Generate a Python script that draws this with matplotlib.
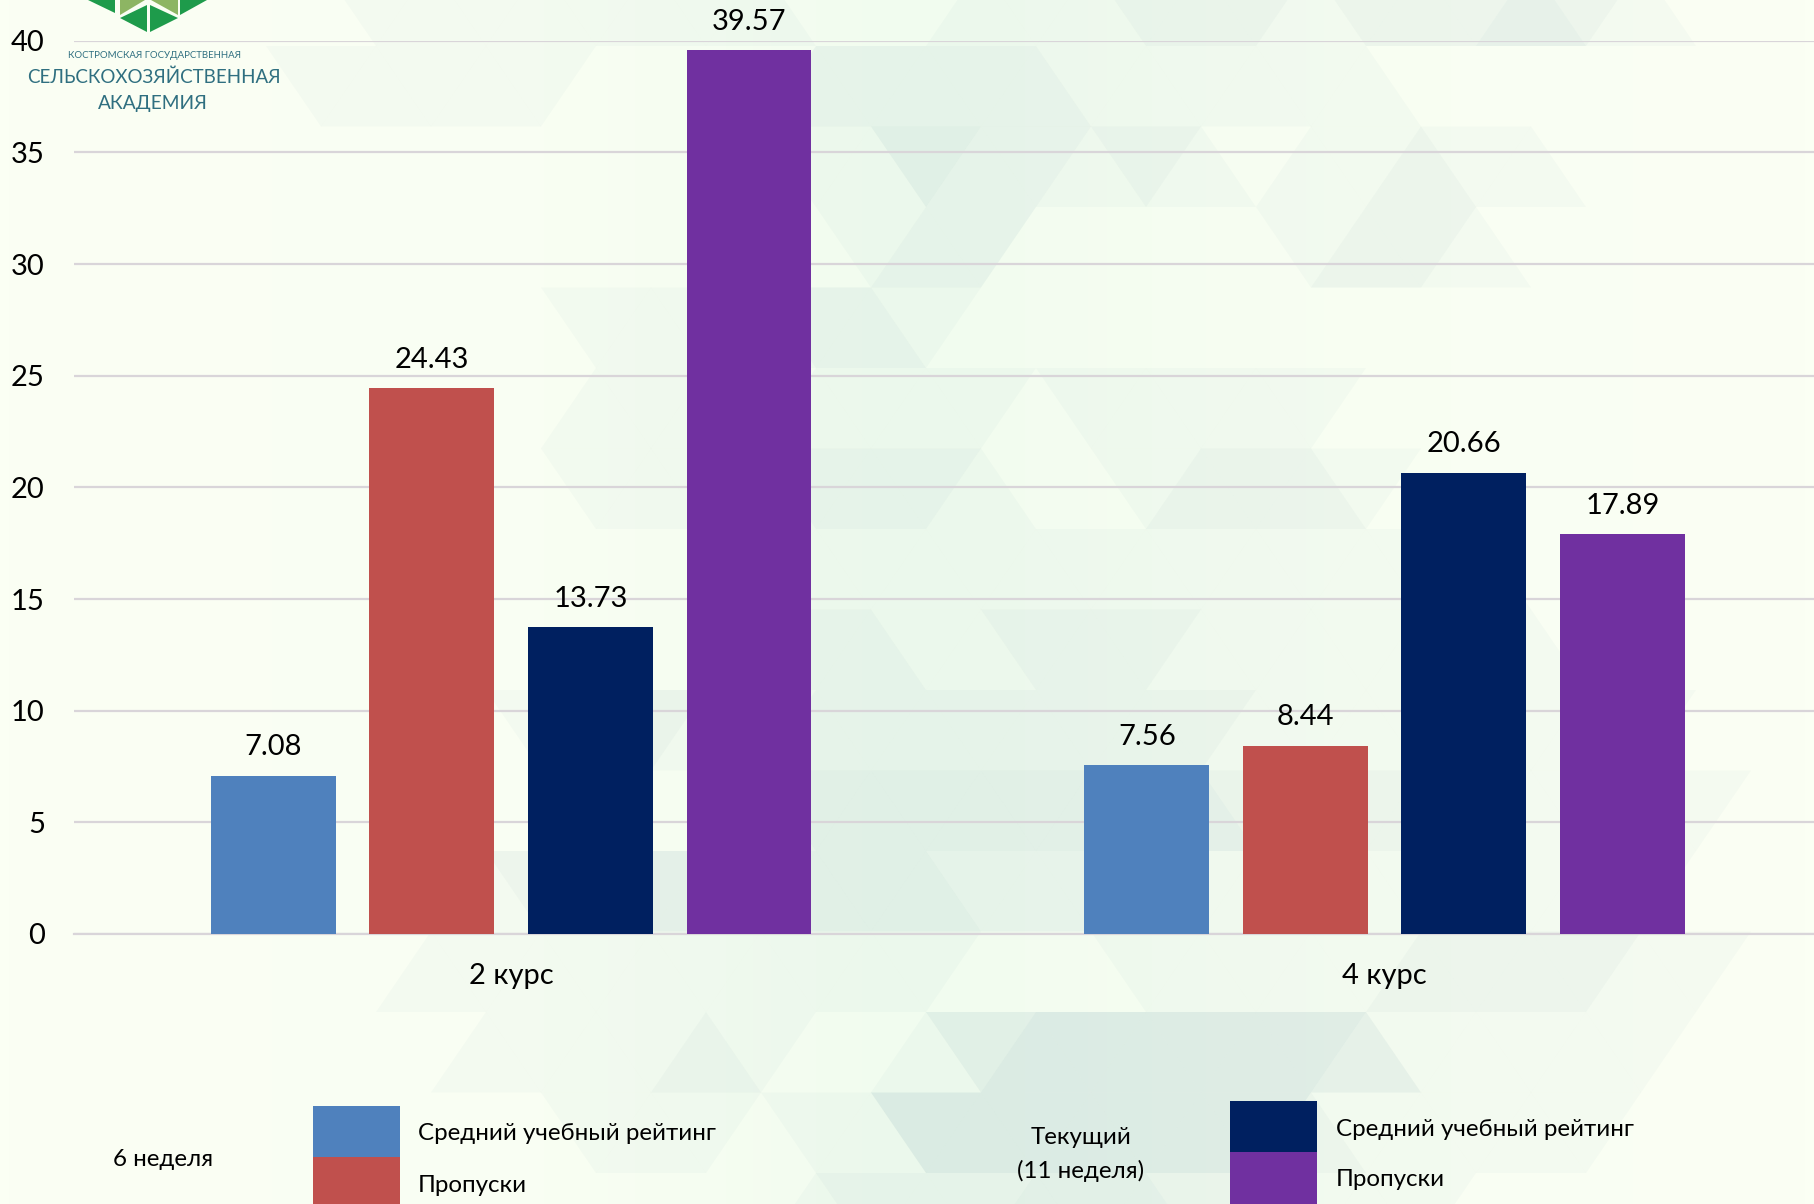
import matplotlib
matplotlib.use('Agg')
import matplotlib.pyplot as plt
from matplotlib.collections import PolyCollection
from matplotlib.patches import Polygon, Rectangle
import numpy as np

# --- data ---
courses = ['2 курс', '4 курс']
rating_w6 = [7.08, 7.56]
absent_w6 = [24.43, 8.44]
rating_w11 = [13.73, 20.66]
absent_w11 = [39.57, 17.89]
y_ticks = [0, 5, 10, 15, 20, 25, 30, 35, 40]

BLUE, RED, NAVY, PURPLE = '#4F81BD', '#C0504D', '#002060', '#7030A0'
TEAL = '#2F6F80'
W, H = 1814, 1204

# tint level of each background triangle, one string per row of the lattice
bg_rows = [
    '0000001111111100011122212223210000',
    '0000011111000022222111111000000000',
    '0000000000000011322121011211000000',
    '0000000000000001220000012210000000',
    '0000000000111122100000000000000000',
    '0000000000111011110111110000000000',
    '0000000000111122210012221000000000',
    '0000000000000111111111111110000000',
    '0000000000000222112221111111000000',
    '0000000001121122222222111111110000',
    '0000000000000233333333222211111000',
    '0000000012333333322221111111110000',
    '0000000111111111100011111222211000',
    '0000000011112100134444443111110000',
    '0000000000111011444444421111100000',
    '0000000000000012223332211100000000',
]

plt.rcParams['font.family'] = ['Lato', 'Open Sans', 'DejaVu Sans']

fig = plt.figure(figsize=(W / 100, H / 100), dpi=100)

# --- page layer: background, logo, legend ---
page = fig.add_axes([0, 0, 1, 1], zorder=0)
page.set_xlim(0, W)
page.set_ylim(H, 0)
page.axis('off')

base_l = np.array([251, 255, 244]) / 255
base_m = np.array([241, 252, 239]) / 255
xs = np.linspace(0, 1, 200)
t = np.interp(xs, [0, 0.3, 0.5, 0.75, 1], [0, 0.2, 1, 0.25, 0])
img = base_l[None, :] * (1 - t[:, None]) + base_m[None, :] * t[:, None]
page.imshow(img[None, :, :], extent=[0, W, H, 0], aspect='auto', zorder=0)

polys, tints = [], []
for i, row in enumerate(bg_rows):
    r = i - 1
    y0, y1 = 46 + 80.5 * r, 46 + 80.5 * (r + 1)
    for c, ch in enumerate(row):
        if ch == '0':
            continue
        left = 55 * c - 9
        if (r + c) % 2:
            polys.append([(left, y0), (left + 110, y0), (left + 55, y1)])
        else:
            polys.append([(left, y1), (left + 110, y1), (left + 55, y0)])
        tints.append((70 / 255, 130 / 255, 150 / 255, int(ch) * 0.033))
page.add_collection(PolyCollection(polys, facecolors=tints, edgecolors='none', zorder=1))

for pts, col in [
    ([(88, 0), (115, 13), (115, 0)], '#1E9B4B'),
    ([(180, 15), (180, 0), (207, 0)], '#1E9B4B'),
    ([(120, 18), (147, 5), (147, 32)], '#1E9B4B'),
    ([(150, 5), (178, 18), (150, 32)], '#1E9B4B'),
    ([(120, 0), (145, 0), (120, 15)], '#8DB563'),
    ([(151, 0), (178, 0), (178, 15)], '#8DB563'),
]:
    page.add_patch(Polygon(pts, closed=True, facecolor=col, edgecolor='none', zorder=2))

page.text(155, 56, 'КОСТРОМСКАЯ ГОСУДАРСТВЕННАЯ', fontsize=6.9, color=TEAL, ha='center', va='center')
page.text(154, 77, 'СЕЛЬСКОХОЗЯЙСТВЕННАЯ', fontsize=13.5, color=TEAL, ha='center', va='center')
page.text(153, 103, 'АКАДЕМИЯ', fontsize=13.8, color=TEAL, ha='center', va='center')

# legend built by hand, the original has two separate blocks
page.add_patch(Rectangle((313, 1106), 87, 51, color=BLUE, lw=0, zorder=2))
page.add_patch(Rectangle((313, 1157), 87, 47, color=RED, lw=0, zorder=2))
page.add_patch(Rectangle((1230, 1101), 87, 51, color=NAVY, lw=0, zorder=2))
page.add_patch(Rectangle((1230, 1152), 87, 52, color=PURPLE, lw=0, zorder=2))

LEG = 17.4
page.text(163, 1160, '6 неделя', fontsize=LEG, ha='center', va='center', color='black')
page.text(418, 1134, 'Средний учебный рейтинг', fontsize=LEG, va='center', color='black')
page.text(418, 1185, 'Пропуски', fontsize=LEG, va='center', color='black')
page.text(1081, 1138, 'Текущий', fontsize=LEG, ha='center', va='center', color='black')
page.text(1081, 1171, '(11 неделя)', fontsize=LEG, ha='center', va='center', color='black')
page.text(1336, 1129, 'Средний учебный рейтинг', fontsize=LEG, va='center', color='black')
page.text(1336, 1180, 'Пропуски', fontsize=LEG, va='center', color='black')

# --- chart ---
ax = fig.add_axes([74 / W, (H - 934) / H, (W - 74) / W, (934 - 40.7) / H], zorder=1)
ax.patch.set_alpha(0)
x = np.arange(len(courses))
width = 0.143
pitch = 0.1815
series = [(rating_w6, BLUE), (absent_w6, RED), (rating_w11, NAVY), (absent_w11, PURPLE)]
for k, (vals, col) in enumerate(series):
    bars = ax.bar(x + (k - 1.5) * pitch, vals, width, color=col, zorder=3)
    for b, v in zip(bars, vals):
        ax.annotate(f'{v:.2f}', (b.get_x() + b.get_width() / 2, v), xytext=(0, 20.5),
                    textcoords='offset points', ha='center', va='center',
                    fontsize=21, color='black', annotation_clip=False)

ax.set_xlim(-0.5005, 1.4915)
ax.set_ylim(0, 40)
ax.set_yticks(y_ticks)
ax.set_xticks(x)
ax.set_xticklabels(courses)
ax.grid(axis='y', color='#D9D5D9', linewidth=1.6, zorder=1)
for side in ['top', 'right', 'left']:
    ax.spines[side].set_visible(False)
ax.spines['bottom'].set_color('#D9D5D9')
ax.spines['bottom'].set_linewidth(1.6)
ax.tick_params(axis='y', length=0, labelsize=21, pad=21)
ax.tick_params(axis='x', length=0, labelsize=21, pad=21)

fig.savefig('out.png', dpi=100)
